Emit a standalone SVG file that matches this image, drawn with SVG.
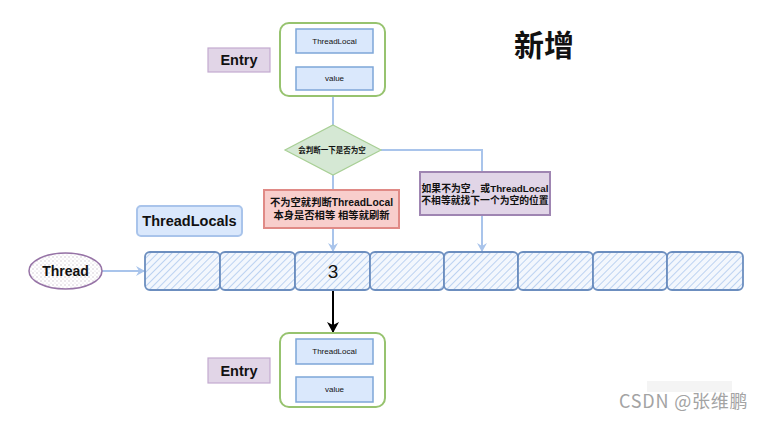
<svg xmlns="http://www.w3.org/2000/svg" width="765" height="421" viewBox="0 0 765 421">
<style>
.t{font-family:"Liberation Sans",Arial,sans-serif;fill:#111;text-anchor:middle;dominant-baseline:central}
.b{font-weight:bold}
.cjk{font-family:"Liberation Sans","Noto Sans CJK SC",sans-serif;font-weight:bold;fill:#111;text-anchor:middle;dominant-baseline:central}
.lbl{fill:#e1d5e7;stroke:#c3abd0;stroke-width:1.2}
.outer{fill:#fff;stroke:#97c36f;stroke-width:2}
.inner{fill:#dae8fc;stroke:#7ea6d8;stroke-width:1.5}
.cell{fill:url(#hatch);stroke:#6c8ebf;stroke-width:1.8}
.con{fill:none;stroke:#a9c4eb;stroke-width:2}
.blk{fill:none;stroke:#000;stroke-width:2}
</style>
<defs>
<pattern id="hatch" patternUnits="userSpaceOnUse" width="5" height="5" patternTransform="rotate(45)">
<rect width="5" height="5" fill="#f3f7fd"/>
<line x1="0" y1="0" x2="0" y2="5" stroke="#bcd2f1" stroke-width="2"/>
</pattern>
<pattern id="dots" patternUnits="userSpaceOnUse" width="4" height="4">
<rect width="4" height="4" fill="#fff"/>
<circle cx="1" cy="1" r="0.7" fill="#c8c0cc"/>
<circle cx="3" cy="3" r="0.6" fill="#d6cfd9"/>
</pattern>
<marker id="ab" markerWidth="10" markerHeight="10" refX="8" refY="5" orient="auto" markerUnits="userSpaceOnUse">
<path d="M0,0 L9,5 L0,10 L3,5 Z" fill="#a9c4eb"/>
</marker>
<marker id="ak" markerWidth="12" markerHeight="12" refX="10" refY="6" orient="auto" markerUnits="userSpaceOnUse">
<path d="M0,0 L11,6 L0,12 L3,6 Z" fill="#000"/>
</marker>
</defs>
<rect width="765" height="421" fill="#fff"/>

<g id="connectors">
<line class="con" x1="333" y1="96" x2="333" y2="126"/>
<line class="con" x1="333" y1="175" x2="333" y2="190"/>
<polyline class="con" points="381,150 482,150 482,172"/>
<line class="con" x1="482" y1="215" x2="482" y2="251" marker-end="url(#ab)"/>
<line class="con" x1="333" y1="228" x2="333" y2="251" marker-end="url(#ab)"/>
<line class="con" x1="102" y1="271" x2="144" y2="271" marker-end="url(#ab)"/>
<line class="blk" x1="333" y1="290" x2="333" y2="332" marker-end="url(#ak)"/>
</g>

<g id="title"><text x="544" y="43" class="cjk" style="font-size:30px;font-family:'Noto Sans CJK SC',sans-serif">新增</text></g>

<g id="entry-top">
<rect class="lbl" x="208" y="48" width="62" height="24"/>
<text class="t b" x="239" y="60" style="font-size:14.5px">Entry</text>
<rect class="outer" x="280" y="23" width="105" height="73" rx="9"/>
<rect class="inner" x="296" y="29" width="77" height="24"/>
<text class="t" x="334.5" y="41" style="font-size:8px">ThreadLocal</text>
<rect class="inner" x="296" y="67" width="77" height="23"/>
<text class="t" x="334.5" y="78.5" style="font-size:8px">value</text>
</g>

<g id="decision">
<polygon points="333,125 381,150 333,175 285,150" fill="#d5e8d4" stroke="#a8cf95" stroke-width="1.2"/>
<text class="cjk" x="332" y="150" style="font-size:7.5px">会判断一下是否为空</text>
</g>

<g id="same-box">
<rect x="264" y="190" width="135" height="38" fill="#f8cecc" stroke="#e08a86" stroke-width="2"/>
<text class="cjk" x="331.5" y="202.5" style="font-size:10.3px">不为空就判断ThreadLocal</text>
<text class="cjk" x="331.5" y="215" style="font-size:10.3px">本身是否相等 相等就刷新</text>
</g>

<g id="next-box">
<rect x="420" y="172" width="130" height="43" fill="#e1d5e7" stroke="#9f85b2" stroke-width="2"/>
<text class="cjk" x="485" y="188" style="font-size:9.8px">如果不为空，或ThreadLocal</text>
<text class="cjk" x="485" y="200" style="font-size:9.8px">不相等就找下一个为空的位置</text>
</g>

<g id="threadlocals-label">
<rect x="137" y="206" width="105" height="30" rx="4" fill="#dae8fc" stroke="#a9c4eb" stroke-width="2"/>
<text class="t b" x="189.5" y="221" style="font-size:14.5px">ThreadLocals</text>
</g>

<g id="thread">
<ellipse cx="65.5" cy="271" rx="36.5" ry="18" fill="url(#dots)" stroke="#9673a6" stroke-width="1.5"/>
<text class="t b" x="65.5" y="271" style="font-size:14px">Thread</text>
</g>

<g id="array">
<rect class="cell" x="145" y="252" width="75" height="38" rx="5"/>
<rect class="cell" x="220" y="252" width="75" height="38" rx="5"/>
<rect class="cell" x="295" y="252" width="75" height="38" rx="5"/>
<rect class="cell" x="370" y="252" width="74" height="38" rx="5"/>
<rect class="cell" x="444" y="252" width="74" height="38" rx="5"/>
<rect class="cell" x="518" y="252" width="75" height="38" rx="5"/>
<rect class="cell" x="593" y="252" width="74" height="38" rx="5"/>
<rect class="cell" x="667" y="252" width="76" height="38" rx="5"/>
<text class="t" x="333" y="271" style="font-size:19px">3</text>
</g>

<g id="entry-bottom">
<rect class="lbl" x="208" y="358" width="62" height="25"/>
<text class="t b" x="239" y="370.5" style="font-size:14.5px">Entry</text>
<rect class="outer" x="280" y="333" width="105" height="74" rx="9"/>
<rect class="inner" x="296" y="339" width="77" height="25"/>
<text class="t" x="334.5" y="351.5" style="font-size:8px">ThreadLocal</text>
<rect class="inner" x="296" y="377" width="77" height="25"/>
<text class="t" x="334.5" y="389.5" style="font-size:8px">value</text>
</g>

<g id="watermark">
<rect x="647" y="381" width="85" height="11" fill="#f4f4f4"/>
<text x="619" y="408" style="font-family:'Noto Sans CJK SC',sans-serif;font-size:18px;letter-spacing:0.8px;fill:#a3a3a3">CSDN @张维鹏</text>
</g>
</svg>
